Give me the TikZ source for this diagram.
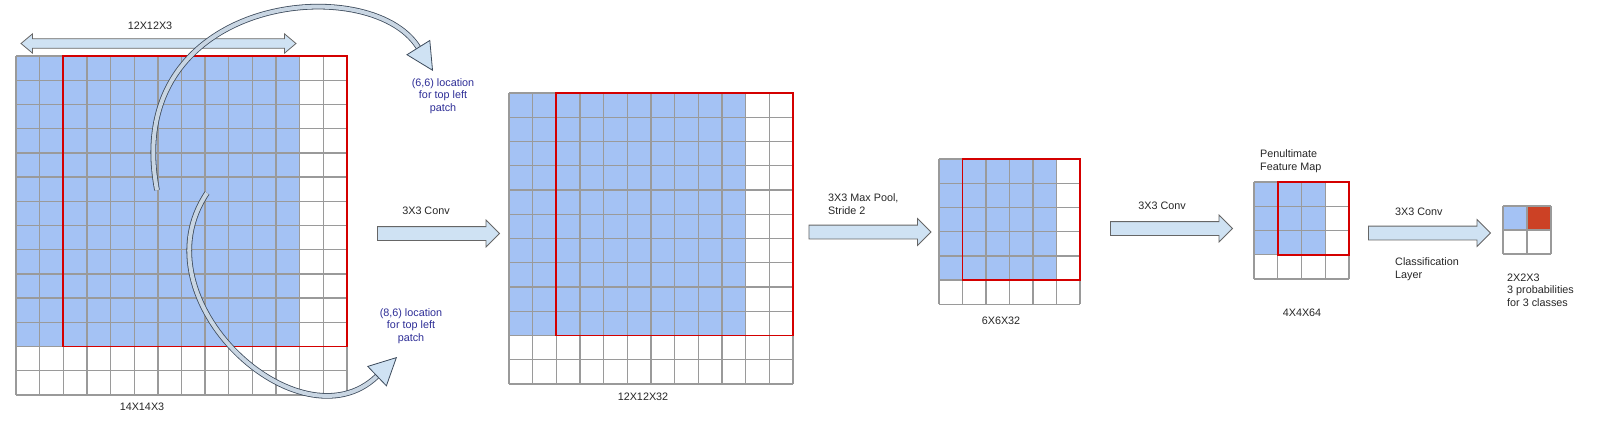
\documentclass[tikz,border=0pt]{standalone}
\usepackage{fontspec}
\setmainfont{Liberation Sans}
\usetikzlibrary{positioning,shapes.arrows,arrows.meta}

\definecolor{cellblue}{HTML}{A4C2F4}
\definecolor{gridgray}{HTML}{9A9A9A}
\definecolor{patchred}{HTML}{D40000}
\definecolor{classred}{HTML}{CC4125}
\definecolor{arrowfill}{HTML}{CFE2F3}
\definecolor{arrowline}{HTML}{666666}
\definecolor{bandfill}{HTML}{C9D6E3}
\definecolor{bandline}{HTML}{3D4B5C}
\definecolor{noteblue}{RGB}{45,45,150}

\tikzset{
  gridline/.style={gridgray, line width=1.4pt},
  patch/.style={patchred, line width=1.8pt},
  lbl/.style={inner sep=0pt, text=black!85, font=\fontsize{10.8}{12.7}\selectfont},
  note/.style={lbl, text=noteblue, align=center},
  blockarrow/.style={single arrow, draw=arrowline, fill=arrowfill, line width=0.8pt,
    minimum height=122pt, inner xsep=0pt, inner ysep=6.5pt, single arrow head extend=6.5pt},
  band/.style={draw=bandline, line width=0.8pt, double=bandfill, double distance=4pt,
    -{Triangle[length=28pt, width=28pt, line width=0.8pt, fill=arrowfill]}}
}

\begin{document}
\begin{tikzpicture}[x=1pt, y=-1pt]
  \useasboundingbox (0,0) rectangle (1600,424);

  % input 14x14
  \coordinate (in14) at (16,56);
  \begin{scope}[shift={(in14)}, x=23.64pt, y=-24.2pt]
    \fill[cellblue] (0,0) rectangle (12,12);
    \foreach \k in {0,...,14} {
      \draw[gridline] (\k,0) -- (\k,14);
      \draw[gridline] (0,\k) -- (14,\k);
    }
    \draw[patch] (2,0) rectangle (14,12);
  \end{scope}

  % 12x12 after conv
  \coordinate (c12) at (509,93);
  \begin{scope}[shift={(c12)}, x=23.67pt, y=-24.25pt]
    \fill[cellblue] (0,0) rectangle (10,10);
    \foreach \k in {0,...,12} {
      \draw[gridline] (\k,0) -- (\k,12);
      \draw[gridline] (0,\k) -- (12,\k);
    }
    \draw[patch] (2,0) rectangle (12,10);
  \end{scope}

  % 6x6 after pooling
  \coordinate (p6) at (939,159);
  \begin{scope}[shift={(p6)}, x=23.5pt, y=-24.2pt]
    \fill[cellblue] (0,0) rectangle (5,5);
    \foreach \k in {0,...,6} {
      \draw[gridline] (\k,0) -- (\k,6);
      \draw[gridline] (0,\k) -- (6,\k);
    }
    \draw[patch] (1,0) rectangle (6,5);
  \end{scope}

  % 4x4 penultimate
  \coordinate (f4) at (1254,182);
  \begin{scope}[shift={(f4)}, x=23.75pt, y=-24.25pt]
    \fill[cellblue] (0,0) rectangle (3,3);
    \foreach \k in {0,...,4} {
      \draw[gridline] (\k,0) -- (\k,4);
      \draw[gridline] (0,\k) -- (4,\k);
    }
    \draw[patch] (1,0) rectangle (4,3);
  \end{scope}

  % 2x2 output
  \coordinate (o2) at (1503,206);
  \begin{scope}[shift={(o2)}, x=24pt, y=-24pt]
    \fill[cellblue] (0,0) rectangle (1,1);
    \fill[classred] (1,0) rectangle (2,1);
    \foreach \k in {0,...,2} {
      \draw[gridline] (\k,0) -- (\k,2);
      \draw[gridline] (0,\k) -- (2,\k);
    }
  \end{scope}

  % arrows between the maps
  \node[double arrow, draw=arrowline, fill=arrowfill, line width=0.8pt,
    inner xsep=0pt, inner ysep=4.3pt, minimum height=275pt,
    double arrow head extend=5pt, double arrow tip angle=80] (span12) at (158.5,43.5) {};
  \node[blockarrow] (conv1) at (435,233.5) {};
  \node[blockarrow] (pool) at (866.5,232) {};
  \node[blockarrow] (conv2) at (1168,228.5) {};
  \node[blockarrow] (conv3) at (1426,233) {};

  % labels
  \node[lbl] (lab12) at (150,26) {12X12X3};
  \node[lbl] (lab14) at (142,407) {14X14X3};
  \node[note] (loc66) at (443,96) {(6,6) location\\for top left\\patch};
  \node[note] (loc86) at (411,326) {(8,6) location\\for top left\\patch};
  \node[lbl] (t1) at (426,211) {3X3 Conv};
  \node[lbl] (lab12b) at (643,397) {12X12X32};
  \node[lbl, align=left, anchor=west] (t2) at (828,204) {3X3 Max Pool,\\Stride 2};
  \node[lbl] (lab6) at (1001,321) {6X6X32};
  \node[lbl] (t3) at (1162,206) {3X3 Conv};
  \node[lbl, align=left, anchor=west] (pen) at (1260,161) {Penultimate\\Feature Map};
  \node[lbl] (lab4) at (1302,313) {4X4X64};
  \node[lbl, anchor=west] (t4) at (1395,212) {3X3 Conv};
  \node[lbl, align=left, anchor=west] (cls) at (1395,269) {Classification\\Layer};
  \node[lbl, align=left, anchor=west] (lab2) at (1507,290) {2X2X3\\3 probabilities\\for 3 classes};

  % curved arrows to the notes
  \coordinate (s66) at (157,190);
  \coordinate (e66) at (433,71);
  \coordinate (s86) at (207,193);
  \coordinate (e86) at (397,357);
  \draw[band] (s66) .. controls (120,-5) and (370,-30) .. (e66);
  \draw[band] (s86) .. controls (135,300) and (300,450) .. (e86);
\end{tikzpicture}
\end{document}
